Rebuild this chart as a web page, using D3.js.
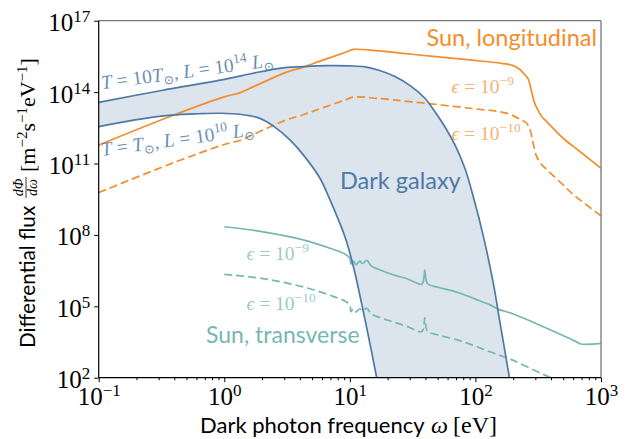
<!DOCTYPE html>
<html><head><meta charset="utf-8">
<script src="https://cdn.jsdelivr.net/npm/d3@7"></script>
<style>body{margin:0;background:#fff}</style>
</head><body><svg id="c" width="629" height="439"></svg>
<script>
// ---------- data ----------
const xTicks = [0.1, 1, 10, 100, 1000];
const xTickExp = ["\u22121", "0", "1", "2", "3"];
const yTicks = [1e2, 1e5, 1e8, 1e11, 1e14, 1e17];
const yTickExp = ["2", "5", "8", "11", "14", "17"];

// Dark galaxy, T = 10 T_sun, L = 1e14 L_sun
const hotOmega = [0.1, 0.316, 1, 1.7, 2.77, 4.26, 6.53, 10, 13.2, 16.8, 22.9, 31.0, 39.6, 47.6, 57.1, 68.7, 82.4, 96.2, 115, 139, 157, 186, 195];
const hotFlux  = [3.7e13, 1.17e14, 3.4e14, 6.2e14, 1.0e15, 1.17e15, 1.29e15, 1.26e15, 1.15e15, 8.5e14, 4.5e14, 1.7e14, 5.5e13, 1.5e13, 3.5e12, 6.0e11, 6.3e10, 4.0e9, 1.0e8, 8.9e5, 2.0e4, 1.1e2, 2e1];
// Dark galaxy, T = T_sun, L = 1e10 L_sun
const coldOmega = [0.1, 0.195, 0.38, 0.631, 0.933, 1.33, 1.92, 2.45, 3.33, 4.26, 5.78, 6.95, 9.14, 10.6, 12.0, 14.0, 16.3, 17.4];
const coldFlux  = [3.55e12, 6.8e12, 1.07e13, 1.23e13, 1.29e13, 1.17e13, 7.9e12, 3.8e12, 9.8e11, 2.3e11, 2.4e10, 2.95e9, 8.3e7, 5.4e6, 3.0e5, 6.2e3, 1.1e2, 2e1];

// Sun, longitudinal
const longOmega9 = [0.1, 0.393, 1, 1.33, 1.70, 3.14, 4.26, 5.78, 9.14, 10.7, 16.8, 31.0, 90.4, 166, 200, 226, 248, 263, 280, 295, 316, 338, 369, 500, 679, 1000];
const longFlux9  = [6.0e11, 1.07e13, 6.3e13, 9.3e13, 1.66e14, 6.9e14, 1.12e15, 2.0e15, 4.6e15, 6.2e15, 5.4e15, 3.9e15, 2.24e15, 1.58e15, 1.3e15, 8.9e14, 5.2e14, 3.6e14, 1.05e14, 3.6e13, 1.66e13, 9.3e12, 5.8e12, 1.15e12, 3.2e11, 6.3e10];
const longOmega10 = [0.1, 0.393, 1, 1.33, 1.70, 3.14, 4.26, 5.78, 9.14, 10.7, 16.8, 31.0, 90.4, 177, 229, 256, 275, 288, 307, 331, 369, 500, 601, 1000];
const longFlux10  = [6.0e9, 1.07e11, 6.3e11, 9.3e11, 1.66e12, 6.9e12, 1.12e13, 2.0e13, 4.6e13, 6.2e13, 5.4e13, 3.9e13, 2.1e13, 1.3e13, 7.1e12, 4.9e12, 2.2e12, 7.0e11, 2.0e11, 1.0e11, 5.6e10, 1.26e10, 5.0e9, 6.3e8];

// Sun, transverse
const transOmega9 = [1, 2.04, 4.26, 6.95, 9.12, 10, 10.2, 10.7, 11.2, 12.0, 12.6, 13.6, 14.8, 17.8, 22.9, 28.8, 37.2, 38.5, 39.5, 40.7, 42.2, 50.1, 72.4, 100, 132, 151, 191, 347, 640, 692, 1000];
const transFlux9  = [2.2e8, 1.35e8, 6.2e7, 2.75e7, 1.58e7, 1.05e7, 6.0e6, 7.9e6, 5.6e6, 7.9e6, 6.3e6, 8.5e6, 5.0e6, 3.2e6, 2.0e6, 1.4e6, 8.3e5, 1.12e6, 3.3e6, 1.12e6, 8.3e5, 6.3e5, 3.8e5, 2.0e5, 1.12e5, 7.6e4, 5.2e4, 1.38e4, 3.2e3, 2.6e3, 2.75e3];
const transOmega10 = [1, 2.04, 4.26, 6.95, 9.12, 10, 10.2, 10.7, 11.2, 12.0, 12.6, 13.6, 14.8, 17.8, 22.9, 28.8, 37.2, 38.5, 39.5, 40.7, 42.2, 50.1, 72.4, 100, 132, 191, 347, 646];
const transFlux10  = [2.2e6, 1.45e6, 6.5e5, 2.9e5, 1.66e5, 1.12e5, 6.0e4, 7.9e4, 5.8e4, 7.9e4, 6.3e4, 8.3e4, 4.8e4, 3.2e4, 2.1e4, 1.4e4, 8.5e3, 1.12e4, 3.3e4, 1.12e4, 8.3e3, 6.3e3, 3.8e3, 2.1e3, 1.2e3, 5.9e2, 1.38e2, 3.2e1];

// ---------- drawing ----------
const BLUE = "#4E79A7", ORANGE = "#F28E2B", TEAL = "#76B7B2";
const SANS = "Lato, 'Open Sans', sans-serif";
const SERIF = "'Liberation Serif', 'DejaVu Serif', serif";
const L = 98.7, R = 601, T = 20.7, B = 377.7;

const x = d3.scaleLog().domain([0.1, 1000]).range([L, R]);
const y = d3.scaleLog().domain([1e2, 1e17]).range([B, T]);
const svg = d3.select("#c");

svg.append("defs").append("clipPath").attr("id", "clip")
  .append("rect").attr("x", L).attr("y", T).attr("width", R - L).attr("height", B - T);
const plot = svg.append("g").attr("clip-path", "url(#clip)");

const pts = (om, fl) => om.map((o, i) => [x(o), y(fl[i])]);
const line = d3.line().curve(d3.curveCatmullRom.alpha(0.5));

const hotP = pts(hotOmega, hotFlux), coldP = pts(coldOmega, coldFlux);
plot.append("path")
  .attr("d", line(hotP) + "L" + line(coldP.slice().reverse()).slice(1) + "Z")
  .attr("fill", BLUE).attr("fill-opacity", 0.2).attr("stroke", "none");

function curve(om, fl, color, dash) {
  plot.append("path").attr("d", line(pts(om, fl)))
    .attr("fill", "none").attr("stroke", color).attr("stroke-width", 1.7)
    .attr("stroke-dasharray", dash || null);
}
curve(transOmega9, transFlux9, TEAL);
curve(transOmega10, transFlux10, TEAL, "8,4");
curve(longOmega9, longFlux9, ORANGE);
curve(longOmega10, longFlux10, ORANGE, "8,4");
curve(hotOmega, hotFlux, BLUE);
curve(coldOmega, coldFlux, BLUE);

// ---------- axes ----------
const minor = [];
[0.1, 1, 10, 100].forEach(d => { for (let k = 2; k <= 9; k++) minor.push(d * k); });

const gxMinor = svg.append("g").attr("transform", `translate(0,${B})`)
  .call(d3.axisBottom(x).tickValues(minor).tickSize(2.5).tickFormat(""));
const gx = svg.append("g").attr("transform", `translate(0,${B})`)
  .call(d3.axisBottom(x).tickValues(xTicks).tickSize(4.5).tickFormat(""));
const gy = svg.append("g").attr("transform", `translate(${L},0)`)
  .call(d3.axisLeft(y).tickValues(yTicks).tickSize(4.5).tickFormat(""));
[gxMinor, gx, gy].forEach(g => { g.select(".domain").remove(); g.selectAll("line").attr("stroke", "#000").attr("stroke-width", 1); });

function rich(sel, parts) {
  let shift = 0;
  parts.forEach(p => {
    const s = p.shift || 0;
    const ts = sel.append("tspan").text(p.t).attr("dy", s - shift);
    if (p.size) ts.attr("font-size", p.size);
    if (p.italic) ts.attr("font-style", "italic");
    if (p.family) ts.attr("font-family", p.family);
    shift = s;
  });
  return sel;
}

gx.selectAll(".tick").each(function (d, i) {
  const t = d3.select(this).append("text").attr("y", 27.5).attr("text-anchor", "middle")
    .attr("font-family", SERIF).attr("font-size", 25).attr("fill", "#000");
  rich(t, [{ t: "10" }, { t: xTickExp[i], size: 17, shift: -9 }]);
});
gy.selectAll(".tick").each(function (d, i) {
  const t = d3.select(this).append("text").attr("x", -8.5).attr("y", 10).attr("text-anchor", "end")
    .attr("font-family", SERIF).attr("font-size", 25).attr("fill", "#000");
  rich(t, [{ t: "10" }, { t: yTickExp[i], size: 17, shift: -9 }]);
});

// spines
svg.append("line").attr("x1", L).attr("x2", R).attr("y1", T).attr("y2", T).attr("stroke", "#777").attr("stroke-width", 1.3);
svg.append("line").attr("x1", R).attr("x2", R).attr("y1", T).attr("y2", B).attr("stroke", "#777").attr("stroke-width", 1.3);
svg.append("line").attr("x1", L).attr("x2", L).attr("y1", T).attr("y2", B).attr("stroke", "#000").attr("stroke-width", 1.2);
svg.append("line").attr("x1", L).attr("x2", R).attr("y1", B).attr("y2", B).attr("stroke", "#000").attr("stroke-width", 1.2);

// axis labels
const xl = svg.append("text").attr("y", 433).attr("font-family", SANS).attr("font-size", 22).attr("fill", "#000");
xl.append("tspan").attr("x", 200).text("Dark photon frequency");
xl.append("tspan").attr("x", 431).attr("font-family", SERIF).attr("font-size", 24).attr("font-style", "italic").text("\u03c9");
xl.append("tspan").attr("x", 453).attr("font-family", SERIF).attr("font-size", 24).text("[eV]");

const yl = svg.append("g").attr("transform", "translate(35,0) rotate(-90)");
yl.append("text").attr("x", -348).attr("y", 0).attr("font-family", SANS).attr("font-size", 20.8).attr("fill", "#000").text("Differential flux");
yl.append("text").attr("x", -187.5).attr("y", -12).attr("text-anchor", "middle").attr("font-family", SERIF).attr("font-size", 14).attr("font-style", "italic").text("d\u03a6");
yl.append("line").attr("x1", -198).attr("x2", -177).attr("y1", -9).attr("y2", -9).attr("stroke", "#000").attr("stroke-width", 0.8);
yl.append("text").attr("x", -187.5).attr("y", 1.5).attr("text-anchor", "middle").attr("font-family", SERIF).attr("font-size", 14).attr("font-style", "italic").text("d\u03c9");
const unit = yl.append("text").attr("x", -172).attr("y", 0).attr("font-family", SERIF).attr("font-size", 22).attr("fill", "#000");
rich(unit, [{ t: "[m" }, { t: "\u22122", size: 15, shift: -8 }, { t: "s" }, { t: "\u22121", size: 15, shift: -8 }, { t: "eV" }, { t: "\u22121", size: 15, shift: -8 }, { t: "]" }]);

// in-plot labels
svg.append("text").attr("x", 597).attr("y", 45.5).attr("text-anchor", "end").attr("font-family", SANS).attr("font-size", 23.5).attr("fill", ORANGE).text("Sun, longitudinal");
svg.append("text").attr("x", 340).attr("y", 188.5).attr("font-family", SANS).attr("font-size", 23.5).attr("fill", BLUE).text("Dark galaxy");
svg.append("text").attr("x", 206).attr("y", 343).attr("font-family", SANS).attr("font-size", 23).attr("fill", TEAL).text("Sun, transverse");

function epsLabel(xp, yp, exp, color, op) {
  const t = svg.append("text").attr("x", xp).attr("y", yp).attr("font-family", SERIF).attr("font-size", 19.5).attr("fill", color).attr("fill-opacity", op);
  rich(t, [{ t: "\u03f5", italic: true }, { t: " = 10" }, { t: exp, size: 13.5, shift: -8 }]);
}
epsLabel(451.5, 93.3, "\u22129", ORANGE, 0.7);
epsLabel(451.5, 140, "\u221210", ORANGE, 0.7);
epsLabel(246.5, 260, "\u22129", TEAL, 0.75);
epsLabel(246.5, 310, "\u221210", TEAL, 0.75);

function galLabel(xp, yp, parts) {
  const t = svg.append("text").attr("transform", `translate(${xp},${yp}) rotate(-7.7)`)
    .attr("font-family", SERIF).attr("font-size", 19.5).attr("fill", BLUE).attr("fill-opacity", 0.85);
  rich(t, parts);
}
galLabel(102, 89.3, [{ t: "T", italic: true }, { t: " = 10" }, { t: "T", italic: true }, { t: "\u2299", size: 13, shift: 4 },
  { t: ", " }, { t: "L", italic: true }, { t: " = 10" }, { t: "14", size: 13.5, shift: -8 }, { t: " " }, { t: "L", italic: true }, { t: "\u2299", size: 13, shift: 4 }, { t: "", shift: 0 }]);
galLabel(102, 156, [{ t: "T", italic: true }, { t: " = " }, { t: "T", italic: true }, { t: "\u2299", size: 13, shift: 4 },
  { t: ", " }, { t: "L", italic: true }, { t: " = 10" }, { t: "10", size: 13.5, shift: -8 }, { t: " " }, { t: "L", italic: true }, { t: "\u2299", size: 13, shift: 4 }, { t: "", shift: 0 }]);
</script>
</body></html>
